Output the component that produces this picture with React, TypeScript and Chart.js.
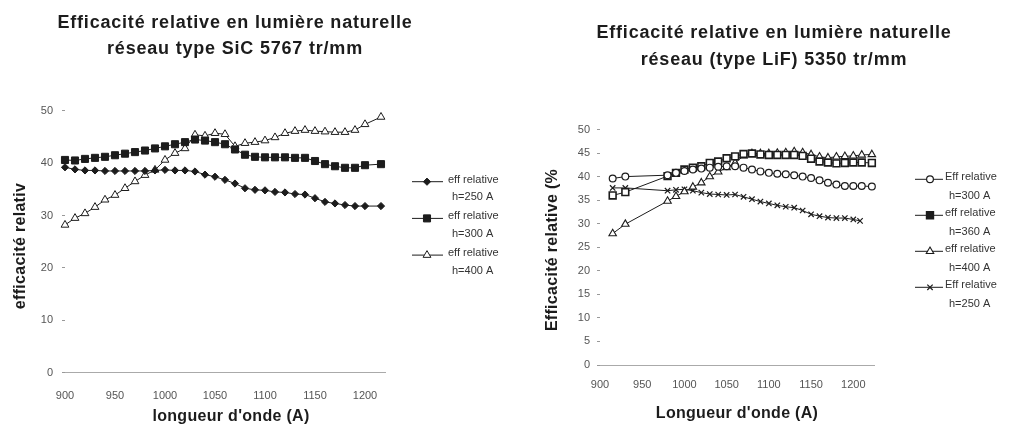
import React, { useEffect, useRef } from "react";
import { Chart, registerables } from "chart.js";
import { drawPoint } from "chart.js/helpers";

Chart.register(...registerables);

const FONT = "'Liberation Sans', Arial, Helvetica, sans-serif";
const INK = "#1c1c1c";

// ---------- Left chart: réseau type SiC 5767 tr/mm ----------
const leftTitle = ["Efficacité relative en lumière naturelle", "réseau type SiC 5767 tr/mm"];
const leftYLabel = "efficacité relativ";
const leftXLabel = "longueur d'onde (A)";
const leftXTicks = [900, 950, 1000, 1050, 1100, 1150, 1200];
const leftYTicks = [0, 10, 20, 30, 40, 50];
const leftWavelengths = [
  900, 910, 920, 930, 940, 950, 960, 970, 980, 990, 1000, 1010, 1020, 1030, 1040, 1050,
  1060, 1070, 1080, 1090, 1100, 1110, 1120, 1130, 1140, 1150, 1160, 1170, 1180, 1190, 1200, 1216,
];
const leftEff250 = [
  39.2, 38.8, 38.6, 38.6, 38.5, 38.5, 38.5, 38.5, 38.5, 38.6, 38.7, 38.6, 38.6, 38.4, 37.8, 37.4,
  36.8, 36.1, 35.2, 34.9, 34.8, 34.5, 34.4, 34.1, 34.0, 33.3, 32.6, 32.3, 32.0, 31.8, 31.8, 31.8,
];
const leftEff300 = [
  40.6, 40.5, 40.8, 41.0, 41.2, 41.5, 41.8, 42.1, 42.4, 42.8, 43.2, 43.6, 44.0, 44.5, 44.3, 44.0,
  43.6, 42.6, 41.6, 41.2, 41.1, 41.1, 41.1, 41.0, 41.0, 40.4, 39.8, 39.4, 39.1, 39.1, 39.6, 39.8,
];
const leftEff400 = [
  28.2, 29.5, 30.4, 31.6, 33.0, 33.9, 35.2, 36.5, 37.7, 38.7, 40.6, 41.9, 42.8, 45.4, 45.2, 45.7,
  45.5, 43.2, 43.8, 44.0, 44.3, 44.9, 45.7, 46.1, 46.3, 46.1, 46.0, 45.9, 45.9, 46.3, 47.4, 48.8,
];
const leftLegend = [
  ["eff relative", "h=250 A"],
  ["eff relative", "h=300 A"],
  ["eff relative", "h=400 A"],
];

// ---------- Right chart: réseau (type LiF) 5350 tr/mm ----------
const rightTitle = ["Efficacité relative en lumière naturelle", "réseau (type LiF) 5350 tr/mm"];
const rightYLabel = "Efficacité relative (%";
const rightXLabel = "Longueur d'onde (A)";
const rightXTicks = [900, 950, 1000, 1050, 1100, 1150, 1200];
const rightYTicks = [0, 5, 10, 15, 20, 25, 30, 35, 40, 45, 50];
const rightWavelengths = [
  915, 930, 980, 990, 1000, 1010, 1020, 1030, 1040, 1050, 1060, 1070, 1080, 1090, 1100,
  1110, 1120, 1130, 1140, 1150, 1160, 1170, 1180, 1190, 1200, 1210, 1222,
];
const rightWavelengths250 = [
  915, 930, 980, 990, 1000, 1010, 1020, 1030, 1040, 1050, 1060, 1070, 1080, 1090, 1100,
  1110, 1120, 1130, 1140, 1150, 1160, 1170, 1180, 1190, 1200, 1208,
];
const rightEff300 = [
  39.6, 40.0, 40.3, 40.8, 41.2, 41.5, 41.7, 41.9, 42.1, 42.2, 42.2, 41.9, 41.5, 41.1, 40.8,
  40.6, 40.5, 40.3, 40.0, 39.7, 39.2, 38.7, 38.3, 38.0, 38.0, 38.0, 37.9,
];
const rightEff350 = [
  36.0, 36.7, 40.1, 40.8, 41.5, 41.9, 42.2, 42.9, 43.2, 43.9, 44.3, 44.8, 44.9, 44.7, 44.6,
  44.6, 44.6, 44.6, 44.4, 43.8, 43.2, 43.0, 42.8, 42.9, 43.0, 43.0, 42.9,
];
const rightEff400 = [
  27.9, 29.9, 34.8, 35.8, 36.8, 37.8, 38.7, 40.0, 41.0, 41.9, 42.9, 44.4, 44.9, 44.9, 44.9,
  45.0, 45.1, 45.3, 45.1, 44.7, 44.2, 44.0, 44.2, 44.3, 44.4, 44.6, 44.7,
];
const rightEff250 = [
  37.6, 37.6, 37.0, 37.2, 37.3, 37.0, 36.6, 36.3, 36.2, 36.1, 36.2, 35.7, 35.2, 34.7, 34.3,
  33.9, 33.6, 33.4, 32.8, 32.0, 31.6, 31.3, 31.2, 31.2, 30.9, 30.6,
];
const rightLegend = [
  ["Eff relative", "h=300 A"],
  ["eff relative", "h=360 A"],
  ["eff relative", "h=400 A"],
  ["Eff relative", "h=250 A"],
];

type OverlayCfg = {
  titleLines: string[];
  titleX: number;
  titleY: number[];
  yTitle: string;
  yTitleX: number;
  yTitleY: number;
  xTitle: string;
  xTitleX: number;
  xTitleY: number;
  legend: string[][];
  legendFill: (string | null)[];
  legendLineX: number;
  legendLineLen: number;
  legendMarkerX: number;
  legendY0: number;
  legendStep: number;
  legendTextX: number;
  legendLine2Dy: number;
  legendFont: number;
};

function makeOverlay(cfg: OverlayCfg) {
  return {
    id: "overlay",
    afterDraw(chart: any) {
      const ctx = chart.ctx as CanvasRenderingContext2D;
      ctx.save();
      ctx.fillStyle = INK;
      ctx.textAlign = "center";
      ctx.textBaseline = "middle";
      ctx.font = `bold 18px ${FONT}`;
      (ctx as any).letterSpacing = "0.8px";
      cfg.titleLines.forEach((t, i) => ctx.fillText(t, cfg.titleX, cfg.titleY[i]));
      (ctx as any).letterSpacing = "0.3px";
      ctx.font = `bold 16px ${FONT}`;
      ctx.fillText(cfg.xTitle, cfg.xTitleX, cfg.xTitleY);
      ctx.save();
      ctx.translate(cfg.yTitleX, cfg.yTitleY);
      ctx.rotate(-Math.PI / 2);
      ctx.fillText(cfg.yTitle, 0, 0);
      ctx.restore();
      (ctx as any).letterSpacing = "0px";

      chart.data.datasets.forEach((ds: any, i: number) => {
        const y = cfg.legendY0 + i * cfg.legendStep;
        ctx.setLineDash([]);
        ctx.strokeStyle = INK;
        ctx.lineWidth = 1;
        ctx.beginPath();
        ctx.moveTo(cfg.legendLineX, y);
        ctx.lineTo(cfg.legendLineX + cfg.legendLineLen, y);
        ctx.stroke();
        ctx.fillStyle = cfg.legendFill[i] ?? ds.pointBackgroundColor;
        ctx.strokeStyle = ds.pointBorderColor;
        ctx.lineWidth = ds.pointBorderWidth;
        drawPoint(
          ctx,
          {
            pointStyle: ds.pointStyle,
            radius: ds.pointRadius,
            rotation: 0,
            borderWidth: ds.pointBorderWidth,
          } as any,
          cfg.legendMarkerX,
          y
        );
        ctx.fillStyle = "#333";
        ctx.textAlign = "left";
        ctx.textBaseline = "middle";
        ctx.font = `${cfg.legendFont}px ${FONT}`;
        const lines = cfg.legend[i];
        ctx.fillText(lines[0], cfg.legendTextX, y - 2);
        ctx.fillText(lines[1], cfg.legendTextX + 4, y + cfg.legendLine2Dy);
      });
      ctx.restore();
    },
  };
}

function pts(xs: number[], ys: number[]) {
  return xs.map((x, i) => ({ x, y: ys[i] }));
}

function series(label: string, data: any[], style: string, radius: number, fill: string, bw: number) {
  return {
    label,
    data,
    borderColor: INK,
    borderWidth: 1,
    pointStyle: style,
    pointRadius: radius,
    pointBackgroundColor: fill,
    pointBorderColor: INK,
    pointBorderWidth: bw,
    tension: 0,
    fill: false,
    clip: false,
  };
}

function scaleOptions(
  xMin: number,
  xMax: number,
  xTicks: number[],
  yTicks: number[],
  yMax: number,
  yWidth: number,
  xHeight: number,
  xPad: number,
  yPad: number
) {
  const tickFont = { family: FONT, size: 11 };
  return {
    x: {
      type: "linear",
      min: xMin,
      max: xMax,
      afterBuildTicks: (s: any) => {
        s.ticks = xTicks.map((v) => ({ value: v }));
      },
      afterFit: (s: any) => {
        s.height = xHeight;
      },
      ticks: {
        color: "#555",
        font: tickFont,
        padding: xPad,
        maxRotation: 0,
        autoSkip: false,
        callback: (v: any) => String(v),
      },
      grid: { display: true, drawOnChartArea: false, drawTicks: false },
      border: { display: true, color: "#aaa", dash: [3, 2], width: 1 },
    },
    y: {
      type: "linear",
      min: 0,
      max: yMax,
      afterBuildTicks: (s: any) => {
        s.ticks = yTicks.map((v) => ({ value: v }));
      },
      afterFit: (s: any) => {
        s.width = yWidth;
      },
      ticks: { color: "#555", font: tickFont, padding: yPad, callback: (v: any) => String(v) },
      grid: { display: true, drawOnChartArea: false, drawTicks: true, tickLength: 3, color: "#999" },
      border: { display: false },
    },
  };
}

function LeftChart() {
  const ref = useRef<HTMLCanvasElement>(null);
  useEffect(() => {
    const chart = new Chart(ref.current!, {
      type: "line",
      data: {
        datasets: [
          series("eff relative h=250 A", pts(leftWavelengths, leftEff250), "rectRot", 3.6, INK, 1),
          series("eff relative h=300 A", pts(leftWavelengths, leftEff300), "rect", 5, INK, 1),
          series("eff relative h=400 A", pts(leftWavelengths, leftEff400), "triangle", 4.5, "#fff", 1),
        ] as any,
      },
      options: {
        responsive: false,
        animation: false,
        devicePixelRatio: 1,
        layout: { padding: { top: 110.7, right: 505 - 385, bottom: 0, left: 0 } },
        plugins: { legend: { display: false }, title: { display: false }, tooltip: { enabled: false } },
        scales: scaleOptions(900, 1220, leftXTicks, leftYTicks, 50, 65, 426 - 372.7, 16.5, 9) as any,
      },
      plugins: [
        makeOverlay({
          titleLines: leftTitle,
          titleX: 235,
          titleY: [22.7, 49.3],
          yTitle: leftYLabel,
          yTitleX: 21,
          yTitleY: 246,
          xTitle: leftXLabel,
          xTitleX: 231,
          xTitleY: 416.5,
          legend: leftLegend,
          legendFill: [null, null, null],
          legendLineX: 412,
          legendLineLen: 31,
          legendMarkerX: 427,
          legendY0: 181.7,
          legendStep: 36.7,
          legendTextX: 448,
          legendLine2Dy: 15.5,
          legendFont: 11,
        }),
      ],
    });
    return () => chart.destroy();
  }, []);
  return <canvas ref={ref} width={505} height={426} />;
}

function RightChart() {
  const ref = useRef<HTMLCanvasElement>(null);
  useEffect(() => {
    const chart = new Chart(ref.current!, {
      type: "line",
      data: {
        datasets: [
          series("Eff relative h=300 A", pts(rightWavelengths, rightEff300), "circle", 3.4, "#fff", 1.2),
          series("eff relative h=360 A", pts(rightWavelengths, rightEff350), "rect", 4.8, "#fff", 1.6),
          series("eff relative h=400 A", pts(rightWavelengths, rightEff400), "triangle", 4.3, "#fff", 1.1),
          series("Eff relative h=250 A", pts(rightWavelengths250, rightEff250), "crossRot", 3.8, INK, 1.2),
        ] as any,
      },
      options: {
        responsive: false,
        animation: false,
        devicePixelRatio: 1,
        layout: { padding: { top: 129.5, right: 506 - 369.4, bottom: 0, left: 0 } },
        plugins: { legend: { display: false }, title: { display: false }, tooltip: { enabled: false } },
        scales: scaleOptions(900, 1225, rightXTicks, rightYTicks, 50, 95, 426 - 365, 13.5, 7) as any,
      },
      plugins: [
        makeOverlay({
          titleLines: rightTitle,
          titleX: 269,
          titleY: [33, 60],
          yTitle: rightYLabel,
          yTitleX: 48,
          yTitleY: 250,
          xTitle: rightXLabel,
          xTitleX: 232,
          xTitleY: 413.3,
          legend: rightLegend,
          legendFill: [null, INK, null, null],
          legendLineX: 410,
          legendLineLen: 28,
          legendMarkerX: 425,
          legendY0: 179.3,
          legendStep: 36,
          legendTextX: 440,
          legendLine2Dy: 17,
          legendFont: 11,
        }),
      ],
    });
    return () => chart.destroy();
  }, []);
  return <canvas ref={ref} width={506} height={426} />;
}

export default function App() {
  return (
    <div
      style={{
        position: "fixed",
        left: 0,
        top: 0,
        width: 1011,
        height: 426,
        background: "#fff",
        overflow: "hidden",
      }}
    >
      <div style={{ position: "absolute", left: 0, top: 0, width: 505, height: 426 }}>
        <LeftChart />
      </div>
      <div style={{ position: "absolute", left: 505, top: 0, width: 506, height: 426 }}>
        <RightChart />
      </div>
    </div>
  );
}
